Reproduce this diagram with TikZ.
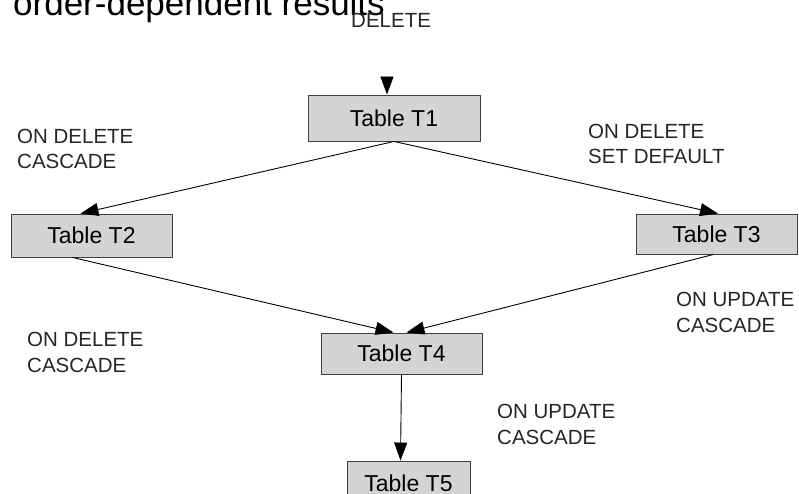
\documentclass[tikz,border=0pt]{standalone}
\usepackage{fontspec}
\setmainfont{Liberation Sans}
\usetikzlibrary{positioning,arrows.meta}

\begin{document}
\begin{tikzpicture}[x=1pt, y=-1pt,
  tablebox/.style={draw=black!75, fill=black!17, line width=0.9pt, inner sep=0pt,
    minimum width=161pt, font=\fontsize{23}{27}\selectfont},
  rulelabel/.style={anchor=base west, align=left, inner sep=0pt, text=black!85,
    font=\fontsize{20.5}{25.5}\selectfont},
  title/.style={anchor=base west, inner sep=0pt, font=\fontsize{35}{40}\selectfont},
  link/.style={draw=black, line width=0.9pt, -{Triangle[length=18pt, width=13pt]}}
  ]
  \useasboundingbox (0,0) rectangle (799,494);

  \node[title] (heading) at (13,16) {order-dependent results};

  % tables
  \node[tablebox, minimum width=172pt, minimum height=46pt] (t1) at (394,118) {Table T1};
  \node[tablebox, minimum height=43pt] (t2) at (91.5,235.5) {Table T2};
  \node[tablebox, minimum height=40pt] (t3) at (716.5,234) {Table T3};
  \node[tablebox, minimum height=41pt] (t4) at (401.5,353.5) {Table T4};
  \node[tablebox, minimum width=123pt, minimum height=44pt] (t5) at (408.5,483) {Table T5};

  % rule labels (base is the last line)
  \node[rulelabel] (del) at (351,28) {DELETE};
  \node[rulelabel] (r12) at (17,169) {ON DELETE\\CASCADE};
  \node[rulelabel] (r13) at (588,164) {ON DELETE\\SET DEFAULT};
  \node[rulelabel] (r34) at (676,332) {ON UPDATE\\CASCADE};
  \node[rulelabel] (r24) at (27,372) {ON DELETE\\CASCADE};
  \node[rulelabel] (r45) at (497,444) {ON UPDATE\\CASCADE};

  % links
  \coordinate (start) at (387,77);
  \draw[link] (start) -- ([xshift=-7pt]t1.north);
  \draw[link] (t1.south) -- ([xshift=-11pt]t2.north);
  \draw[link] (t1.south) -- ([xshift=1.5pt]t3.north);
  \draw[link] ([xshift=-19pt]t2.south) -- ([xshift=-8pt]t4.north);
  \draw[link] ([xshift=-3pt]t3.south) -- ([xshift=5pt]t4.north);
  \draw[link] (t4.south) -- ([xshift=-8pt]t5.north);

\end{tikzpicture}
\end{document}
